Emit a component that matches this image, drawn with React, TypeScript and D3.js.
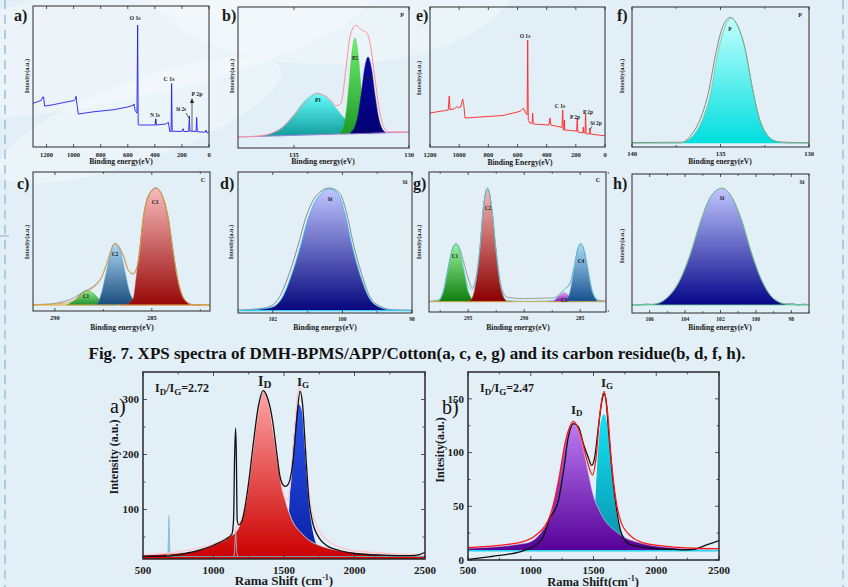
import React from "react";
import * as d3 from "d3";

type P = [number, number];

// ---------------- DATA ----------------
// a) survey DMH-BPMS/APP/Cotton (binding energy, relative intensity %)
const surveyA: P[] = [
  [1300, 31], [1270, 32], [1240, 33], [1228, 35.5], [1222, 35.5], [1214, 29], [1150, 30], [1050, 32],
  [995, 33], [987, 34], [982, 36], [975, 30], [965, 23.4], [850, 25], [700, 26.5], [600, 28.4],
  [560, 29.5], [554, 30.5], [546, 26], [532, 24], [527, 86.5], [523, 16], [515, 15.6], [398, 15.6],
  [394, 20], [390, 15.6], [320, 16.3], [300, 17.5], [290, 11], [280, 11], [276, 45], [272, 11.2],
  [200, 11], [192, 13], [186, 11], [150, 11], [145, 22], [141, 11.3], [95, 11], [91, 21], [87, 10.8],
  [30, 10.5], [22, 12], [15, 10], [0, 10.6],
];
const surveyALabels = ["O 1s", "C 1s", "N 1s", "Si 2s", "P 2p"];

// e) survey carbon residue
const surveyE: P[] = [
  [1200, 24.3], [1100, 26], [1075, 26.4], [1068, 36.4], [1062, 26.5], [1030, 27.5], [1015, 29], [1005, 28],
  [990, 28.5], [976, 34.3], [968, 30], [960, 20.7], [700, 22.5], [580, 25.5], [560, 27.8], [545, 24.3],
  [534, 23], [530, 76.4], [526, 19], [515, 17.1], [500, 17], [496, 24.3], [492, 16.4], [385, 15.7],
  [377, 20.7], [372, 15.7], [295, 14], [290, 26.4], [286, 12], [282, 12], [279, 19.3], [275, 12.1],
  [195, 11.4], [190, 20.7], [186, 10.7], [152, 10], [149, 14.3], [145, 10], [137, 10], [133, 24.3],
  [129, 9.3], [106, 9.3], [103, 13.6], [100, 9.3], [50, 8.6], [0, 8],
];
const surveyELabels = ["O 1s", "C 1s", "P 2p", "P 2p", "Si 2p"];

// b) P 2p
const bBase: P[] = [[137.43, 7.8], [130, 11.3]];
const bP1: P[] = [[136.5, 8.6], [136, 10.3], [135.5, 14.9], [135, 23.7], [134.5, 34.1], [133.96, 39], [133.5, 34.5], [133, 24.7], [132.5, 16.3], [132, 12.2], [131.5, 11]];
const bP2: P[] = [[133.0, 11.1], [132.87, 14.4], [132.74, 24.4], [132.61, 44.1], [132.48, 67.2], [132.35, 78], [132.22, 67.2], [132.09, 44.1], [131.96, 24.4], [131.83, 14.4], [131.7, 11.2]];
const bP3: P[] = [[132.53, 11.2], [132.38, 13.9], [132.23, 21.8], [132.08, 37.5], [131.93, 55.9], [131.78, 64.5], [131.63, 55.9], [131.48, 37.5], [131.33, 21.8], [131.18, 13.9], [131.03, 11.2]];
const bEnv: P[] = [[137.43, 7.8], [136.5, 8.6], [136, 10.3], [135.5, 14.5], [135, 23], [134.5, 32], [134, 38.5], [133.5, 35.5], [133.15, 30], [132.95, 32], [132.75, 55], [132.55, 80], [132.3, 87], [132.05, 83.5], [131.85, 82], [131.7, 75], [131.5, 52], [131.3, 28], [131.1, 15], [130.9, 11.5], [130, 11.3]];

// f) P 2p residue
const fP: P[] = [[140, 2.6], [137.3, 2.8], [136.98, 4], [136.51, 8.6], [135.95, 21.7], [135.56, 38.3], [135.19, 64.5], [134.81, 83.6], [134.38, 91.9], [133.97, 84.8], [133.59, 69.3], [133.21, 43], [132.84, 21.7], [132.37, 8.6], [131.8, 3.8], [131.3, 2.8], [130, 2.6]];
const fRaw: P[] = [[140, 3.1], [138.5, 3.3], [137.2, 3.4], [136.6, 9.5], [136.05, 23], [135.66, 40], [135.28, 66], [134.9, 85], [134.44, 92.5], [134.0, 85.5], [133.6, 69.5], [133.22, 43.5], [132.84, 22], [132.37, 8.8], [131.8, 3.9], [131, 3.2], [130, 3]];

// c) C 1s
const cC1: P[] = [[289.4, 4.3], [288.97, 7.9], [288.63, 12.7], [288.36, 14.9], [288.02, 12.7], [287.67, 7.9], [287.25, 4.8], [286.9, 4.3]];
const cC2: P[] = [[288.1, 4.3], [287.85, 4.8], [287.6, 12.7], [287.34, 28.3], [287.08, 43.9], [286.91, 48.7], [286.65, 43.9], [286.39, 28.3], [286.13, 12.7], [285.79, 6.2], [285.45, 4.3]];
const cC3: P[] = [[286.6, 4.3], [286.3, 4.8], [285.96, 9.1], [285.79, 25.9], [285.62, 45.1], [285.45, 66.7], [285.19, 82.2], [284.79, 88.3], [284.41, 81.1], [284.15, 66.7], [283.9, 42.7], [283.64, 21.1], [283.3, 7.9], [282.87, 4.3], [282.5, 4.3]];
const cEnv: P[] = [[291.13, 4.3], [289.57, 5.5], [288.8, 9.1], [288.36, 13.5], [288.02, 16.8], [287.67, 22.3], [287.34, 33.1], [286.91, 48.7], [286.48, 40.3], [286.22, 29.5], [285.96, 27.1], [285.7, 35.5], [285.45, 65], [285.19, 82.2], [284.79, 88.3], [284.41, 81.1], [284.15, 66.7], [283.9, 42.7], [283.64, 21.1], [283.3, 7.9], [282.87, 4.3], [282, 4.3]];
const cRaw: P[] = [[291.13, 4.6], [290.2, 5.1], [289.6, 6.6], [289, 9.6], [288.6, 13.2], [288.2, 16], [287.9, 19], [287.6, 24], [287.34, 33.5], [286.91, 48.5], [286.48, 40], [286.2, 29], [285.96, 26.5], [285.7, 36], [285.45, 65.5], [285.19, 82.5], [284.79, 88.6], [284.41, 81], [284.15, 66], [283.9, 42], [283.64, 21], [283.3, 8], [282.87, 4.6], [282, 4.4]];
const cBase: P[] = [[291.13, 4.3], [282, 4.3]];

// d) Si 2p
const dSi: P[] = [[103, 1.7], [102.33, 2.8], [101.98, 4.5], [101.74, 10.4], [101.46, 27], [101.22, 45.9], [100.98, 67.2], [100.69, 82.5], [100.35, 88], [100.11, 83.7], [99.92, 69.5], [99.73, 48.2], [99.49, 27], [99.25, 11.6], [98.96, 4.5], [98.58, 2.1], [98, 1.7]];
const dRaw: P[] = [[103, 2.1], [102.35, 3.2], [102.02, 5.4], [101.8, 11.8], [101.52, 28.5], [101.28, 47.5], [101.04, 68.5], [100.74, 83.5], [100.38, 88.6], [100.08, 85], [99.88, 71], [99.69, 49.5], [99.45, 28], [99.22, 12], [98.93, 5], [98.55, 2.3], [98, 2]];
const dBase: P[] = [[103, 1.7], [98, 1.7]];

// g) C 1s residue
const gC1: P[] = [[298.2, 7.4], [297.67, 7.9], [297.22, 14.5], [296.78, 31.2], [296.42, 44.3], [296.12, 48.6], [295.79, 44.3], [295.44, 31.2], [295.0, 14.5], [294.4, 7.9], [294.0, 7.4]];
const gC2: P[] = [[295.3, 7.4], [294.84, 7.9], [294.4, 16.9], [293.95, 45.5], [293.65, 74], [293.27, 88.3], [292.9, 74], [292.54, 45.5], [292.07, 16.9], [291.56, 7.9], [291.1, 7.4]];
const gC3: P[] = [[287.8, 7.4], [287.4, 7.9], [286.96, 10.9], [286.42, 13.8], [285.91, 10.9], [285.47, 7.9], [285.1, 7.4]];
const gC4: P[] = [[286.8, 7.4], [286.36, 7.9], [285.91, 14.5], [285.53, 31.2], [285.23, 44.3], [284.96, 48.6], [284.66, 44.3], [284.33, 31.2], [283.91, 14.5], [283.38, 7.9], [282.9, 7.4]];
const gEnv: P[] = [[298.5, 7.5], [297.67, 8], [297.22, 14.5], [296.78, 31.2], [296.42, 44.3], [296.12, 48.6], [295.79, 44.5], [295.44, 32], [295, 18], [294.7, 16], [294.4, 20], [293.95, 45.5], [293.65, 74], [293.27, 88.3], [292.9, 74], [292.54, 45.5], [292.07, 17], [291.56, 8.5], [290, 7.6], [287.4, 8.2], [286.96, 11.5], [286.42, 16], [285.91, 20], [285.53, 32], [285.23, 44.3], [284.96, 48.6], [284.66, 44.3], [284.33, 31.2], [283.91, 14.5], [283.38, 8], [282.7, 7.4]];
const gRaw: P[] = [[298.5, 7.6], [297.67, 8.5], [297.22, 15], [296.78, 32], [296.42, 45], [296.12, 48.8], [295.79, 46], [295.44, 37], [295, 24], [294.6, 17], [294.4, 21], [293.95, 46], [293.65, 74.5], [293.27, 88.5], [292.9, 74], [292.54, 46], [292.07, 19], [291.56, 10.7], [290, 9.5], [288, 10], [287.4, 10], [286.96, 12], [286.42, 16.2], [285.91, 21], [285.53, 33], [285.23, 45], [284.96, 48.8], [284.66, 44], [284.33, 30], [283.91, 14], [283.38, 8.5], [282.7, 7.8]];
const gBase: P[] = [[298.5, 7.4], [282.7, 7.4]];

// h) Si 2p residue
const hSi: P[] = [[107, 5.8], [106.3, 5.9], [105.8, 6.3], [105.04, 10.6], [104.29, 23.7], [103.72, 41.7], [103.16, 64.5], [102.59, 82.5], [101.93, 89.7], [101.37, 83.7], [100.81, 66.9], [100.24, 42.9], [99.68, 23.7], [99.02, 10.6], [98.27, 6.3], [97.6, 5.9], [97, 5.8]];
const hRaw: P[] = [[107, 6], [106.6, 5.5], [106.2, 6.6], [105.8, 6.1], [105.04, 10.8], [104.29, 23.9], [103.72, 41.9], [103.16, 64.7], [102.59, 83], [102.2, 88.5], [101.93, 89.8], [101.37, 83.5], [100.81, 66.7], [100.24, 42.7], [99.68, 23.5], [99.02, 10.4], [98.27, 6.6], [97.9, 6.9], [97.6, 5.4], [97.3, 6.5], [97, 5.9]];
const hBase: P[] = [[107, 5.8], [97, 5.8]];

// Raman a) DMH-BPMS/APP/Cotton
const ramanA_D: P[] = [[500, 17.5], [833, 23], [1003, 35.5], [1117, 50.5], [1176, 65.8], [1235, 120], [1282, 211], [1318, 284], [1353, 314], [1388, 296], [1424, 241], [1459, 181], [1495, 132], [1542, 90], [1637, 53.6], [1778, 32.4], [1998, 22], [2251, 17.3], [2500, 16]];
const ramanA_G: P[] = [[1480, 20], [1530, 78], [1554, 181], [1571, 241], [1590, 284], [1606, 291], [1627, 278], [1648, 211], [1672, 120], [1696, 72], [1731, 35.5], [1780, 18]];
const ramanA_raw: P[] = [[500, 15], [650, 15], [800, 20], [900, 26], [1000, 35], [1080, 45], [1130, 55], [1142, 80], [1150, 200], [1157, 248], [1162, 200], [1168, 80], [1180, 72], [1205, 82], [1250, 150], [1280, 215], [1320, 290], [1352, 316], [1380, 305], [1420, 260], [1450, 200], [1470, 162], [1490, 146], [1510, 142], [1530, 146], [1560, 180], [1590, 262], [1614, 315], [1632, 290], [1652, 210], [1676, 120], [1700, 80], [1750, 48], [1800, 35], [1900, 25], [2000, 20], [2200, 17], [2400, 16], [2460, 18], [2500, 22]];
const ramanA_fit: P[] = [[500, 17], [1000, 37], [1200, 82], [1300, 250], [1352, 318], [1400, 285], [1450, 200], [1490, 135], [1519, 117], [1545, 145], [1570, 230], [1600, 315], [1612, 322], [1630, 295], [1660, 180], [1700, 95], [1800, 45], [2000, 25], [2500, 17]];
const ramanA_spike1: P[] = [[668, 14], [677, 17], [681, 45], [684, 90], [687, 45], [691, 17], [700, 14]];
const ramanA_spike1fill: P[] = [[674, 12], [680, 18], [684, 27], [688, 18], [694, 12]];
const ramanA_spike2: P[] = [[1138, 13], [1148, 20], [1153, 42], [1157, 62], [1161, 42], [1166, 20], [1176, 13]];
const ramanA_base: P[] = [[500, 14.5], [2500, 14.5]];
const ramanA_floor: P[] = [[500, 11.8], [2500, 11.8]];

// Raman b) carbon residue
const ramanB_D: P[] = [[500, 10.9], [954, 15.5], [1087, 26.4], [1167, 45], [1220, 76], [1273, 110], [1339, 127], [1392, 116], [1446, 88.5], [1498, 60.5], [1565, 41.9], [1698, 24.8], [1884, 15.5], [2176, 10.9], [2500, 9.3]];
const ramanB_G: P[] = [[1450, 15], [1512, 51], [1525, 79], [1544, 113], [1565, 132], [1584, 135.7], [1605, 128.8], [1631, 101], [1658, 66.8], [1685, 41.9], [1725, 24.8], [1804, 17], [1880, 10]];
const ramanB_raw: P[] = [[500, 0.5], [600, 2], [700, 3.5], [800, 5], [900, 7], [950, 9], [1000, 11], [1050, 15], [1100, 22], [1130, 32], [1150, 39], [1180, 44], [1220, 55], [1260, 82], [1300, 115], [1340, 127], [1380, 124], [1420, 108], [1460, 95], [1485, 88], [1510, 96], [1540, 125], [1570, 150], [1585, 155], [1600, 148], [1620, 120], [1650, 80], [1680, 50], [1710, 30], [1740, 20], [1800, 14], [1900, 12], [2000, 10.5], [2100, 10], [2200, 9.5], [2300, 10], [2400, 14], [2500, 18]];
const ramanB_fit: P[] = [[500, 11.5], [900, 16], [1050, 24], [1150, 40], [1220, 72], [1280, 112], [1340, 129], [1400, 115], [1450, 92], [1493, 79], [1520, 95], [1550, 135], [1584, 157], [1610, 140], [1640, 95], [1680, 55], [1720, 35], [1800, 22], [1900, 16], [2100, 12.5], [2300, 11], [2500, 10.5]];
const ramanB_base: P[] = [[500, 8.5], [2500, 8.5]];

// tick values
const ticksA = [1200, 1000, 800, 600, 400, 200, 0];
const ticksB = [135, 130];
const ticksE = [1200, 1000, 800, 600, 400, 200, 0];
const ticksF = [140, 135, 130];
const minorF = [137.5, 132.5];
const ticksC = [290, 285];
const minorC = [287.5, 282.5];
const ticksD = [102, 100, 98];
const minorD = [101, 99];
const ticksG = [295, 290, 285];
const minorG = [297.5, 292.5, 287.5, 282.5];
const ticksH = [106, 104, 102, 100, 98];
const minorH = [105, 103, 101, 99, 97];
const ramanX = [500, 1000, 1500, 2000, 2500];
const ramanXMinor = [750, 1250, 1750, 2250];
const ramanAY = [100, 200, 300];
const ramanAYMinor = [50, 150, 250];
const ramanBY = [0, 50, 100, 150];
const ramanBYMinor = [25, 75, 125];

// ---------------- DRAWING ----------------
const FONT = "'Liberation Serif','Times New Roman',serif";
const INK = "#1a1a1a";

interface Series {
  data: P[];
  fill?: [string, string];
  stroke?: string;
  sw?: number;
  base?: P[];
  linear?: boolean;
}
interface Box { x0: number; x1: number; y0: number; y1: number }
interface PanelProps {
  id: string;
  box: Box;
  xd: [number, number];
  yd: [number, number];
  series: Series[];
  xt: number[];
  xtMinor?: number[];
  yt?: number[];
  ytMinor?: number[];
  tickFs: number;
  tickDy: number;
  boxSw?: number;
  tickLen?: number;
}

function Panel(p: PanelProps) {
  const { box, xd, yd } = p;
  const x = d3.scaleLinear().domain(xd).range([box.x0, box.x1]);
  const y = d3.scaleLinear().domain(yd).range([box.y1, box.y0]);
  const clip = `${p.id}-clip`;
  const tl = p.tickLen ?? 3;
  return (
    <g>
      <defs>
        <clipPath id={clip}>
          <rect x={box.x0} y={box.y0} width={box.x1 - box.x0} height={box.y1 - box.y0} />
        </clipPath>
        {p.series.map((s, i) =>
          s.fill ? (
            <linearGradient key={i} id={`${p.id}-g${i}`} x1="0" y1="0" x2="0" y2="1">
              <stop offset="0" stopColor={s.fill[0]} />
              <stop offset="1" stopColor={s.fill[1]} />
            </linearGradient>
          ) : null
        )}
      </defs>
      <g clipPath={`url(#${clip})`}>
        {p.series.map((s, i) => {
          const data = s.data.slice().sort((a, b) => x(a[0]) - x(b[0]));
          const curve = s.linear ? d3.curveLinear : d3.curveMonotoneX;
          if (s.fill) {
            const bs = s.base
              ? d3.scaleLinear().domain(s.base.map((d) => d[0])).range(s.base.map((d) => d[1]))
              : () => yd[0];
            const area = d3
              .area<P>()
              .x((d) => x(d[0]))
              .y0((d) => y((bs as any)(d[0])))
              .y1((d) => y(d[1]))
              .curve(curve);
            return (
              <path
                key={i}
                d={area(data) || ""}
                fill={`url(#${p.id}-g${i})`}
                stroke={s.stroke || "none"}
                strokeWidth={s.sw ?? 0.8}
              />
            );
          }
          const line = d3
            .line<P>()
            .x((d) => x(d[0]))
            .y((d) => y(d[1]))
            .curve(curve);
          return <path key={i} d={line(data) || ""} fill="none" stroke={s.stroke} strokeWidth={s.sw ?? 0.8} strokeLinejoin="round" />;
        })}
      </g>
      <rect x={box.x0} y={box.y0} width={box.x1 - box.x0} height={box.y1 - box.y0} fill="none" stroke="#2a2a2a" strokeWidth={p.boxSw ?? 1} />
      {[...p.xt, ...(p.xtMinor || [])].map((t, i) => (
        <g key={"xt" + i}>
          <line x1={x(t)} x2={x(t)} y1={box.y1} y2={box.y1 - (i < p.xt.length ? tl : tl * 0.6)} stroke="#2a2a2a" strokeWidth={0.8} />
          <line x1={x(t)} x2={x(t)} y1={box.y0} y2={box.y0 + (i < p.xt.length ? tl : tl * 0.6)} stroke="#2a2a2a" strokeWidth={0.8} />
        </g>
      ))}
      {p.xt.map((t) => (
        <text key={"xl" + t} x={x(t)} y={box.y1 + p.tickDy} textAnchor="middle" fontSize={p.tickFs} fontWeight="bold" fill={INK}>
          {t}
        </text>
      ))}
      {[...(p.yt || []), ...(p.ytMinor || [])].map((t, i) => (
        <g key={"yt" + i}>
          <line x1={box.x0} x2={box.x0 + (i < (p.yt || []).length ? tl : tl * 0.6)} y1={y(t)} y2={y(t)} stroke="#2a2a2a" strokeWidth={0.8} />
          <line x1={box.x1} x2={box.x1 - (i < (p.yt || []).length ? tl : tl * 0.6)} y1={y(t)} y2={y(t)} stroke="#2a2a2a" strokeWidth={0.8} />
        </g>
      ))}
      {(p.yt || []).map((t) => (
        <text key={"yl" + t} x={box.x0 - 4} y={y(t) + p.tickFs * 0.35} textAnchor="end" fontSize={p.tickFs} fontWeight="bold" fill={INK}>
          {t}
        </text>
      ))}
    </g>
  );
}

function T(props: { x: number; y: number; s: number; children: React.ReactNode; a?: "start" | "middle" | "end"; w?: string; rot?: boolean; c?: string }) {
  const { x, y, s, a = "middle", w = "bold", rot, c = INK } = props;
  return (
    <text
      x={x}
      y={y}
      fontSize={s}
      fontWeight={w}
      textAnchor={a}
      fill={c}
      transform={rot ? `rotate(-90 ${x} ${y})` : undefined}
    >
      {props.children}
    </text>
  );
}

export default function App() {
  const boxA = { x0: 33, x1: 209, y0: 6, y1: 147 };
  const boxB = { x0: 238, x1: 409, y0: 7, y1: 148 };
  const boxE = { x0: 430, x1: 605, y0: 7, y1: 147 };
  const boxF = { x0: 632, x1: 809, y0: 7, y1: 147 };
  const boxC = { x0: 33, x1: 210, y0: 172, y1: 311 };
  const boxD = { x0: 238, x1: 412, y0: 172, y1: 313 };
  const boxG = { x0: 429, x1: 606, y0: 172, y1: 312 };
  const boxH = { x0: 632, x1: 809, y0: 174, y1: 313 };
  const boxRA = { x0: 143, x1: 425, y0: 372, y1: 559 };
  const boxRB = { x0: 468, x1: 719, y0: 372, y1: 560 };
  const xf = 6.5;
  const yfs = 6.3;
  const xtitle = 7.6;
  const lf = 16;

  return (
    <svg
      width={848}
      height={587}
      viewBox="0 0 848 587"
      style={{ position: "absolute", left: 0, top: 0, fontFamily: FONT }}
    >
      <rect x={0} y={0} width={848} height={587} fill="#e3eff6" />
      <ellipse cx={120} cy={40} rx={260} ry={60} transform="rotate(-12 120 40)" fill="#ffffff" opacity={0.35} />
      <ellipse cx={330} cy={-30} rx={190} ry={95} fill="#ffffff" opacity={0.3} />
      <ellipse cx={140} cy={120} rx={150} ry={40} transform="rotate(-20 140 120)" fill="#ffffff" opacity={0.3} />
      <line x1={5} x2={5} y1={0} y2={587} stroke="#9fc4dc" strokeWidth={1.6} strokeDasharray="9 6" />
      <line x1={843} x2={843} y1={0} y2={587} stroke="#9fc4dc" strokeWidth={1.6} strokeDasharray="9 6" />
      <line x1={0} x2={9} y1={236} y2={236} stroke="#9fc4dc" strokeWidth={1.4} />

      {/* a) */}
      <Panel id="pa" box={boxA} xd={[1300, 0]} yd={[0, 100]} xt={ticksA} tickFs={xf} tickDy={10}
        series={[{ data: surveyA, stroke: "#1f1ff0", sw: 0.9, linear: true }]} />
      <T x={14} y={21} s={lf} a="start">a)</T>
      <T x={29} y={76} s={yfs} rot>Intesity(a.u.)</T>
      <T x={121} y={164} s={xtitle}>Binding energy(eV)</T>
      <T x={135} y={20} s={5.8}>{surveyALabels[0]}</T>
      <T x={169} y={81} s={5.8}>{surveyALabels[1]}</T>
      <T x={155} y={117} s={5.2}>{surveyALabels[2]}</T>
      <T x={181} y={111} s={5.2}>{surveyALabels[3]}</T>
      <T x={197} y={96} s={5.8}>{surveyALabels[4]}</T>
      <line x1={192} x2={192} y1={131} y2={100} stroke="#222" strokeWidth={0.7} />
      <path d="M190,103 L192,98 L194,103 Z" fill="#222" />
      <line x1={186} x2={189} y1={113} y2={118} stroke="#222" strokeWidth={0.7} />
      <line x1={156} x2={156} y1={124} y2={119} stroke="#222" strokeWidth={0.6} />

      {/* b) */}
      <Panel id="pb" box={boxB} xd={[137.43, 130]} yd={[0, 100]} xt={ticksB} tickFs={xf} tickDy={9}
        series={[
          { data: bP1, fill: ["#66ffff", "#139c9c"], base: bBase, stroke: "#5fd8d8", sw: 0.5 },
          { data: bP2, fill: ["#70f070", "#1e9a28"], base: bBase, stroke: "#40c040", sw: 0.5 },
          { data: bP3, fill: ["#0a0aa8", "#000070"], base: bBase, stroke: "#000080", sw: 0.5 },
          { data: bBase, stroke: "#b070e0", sw: 0.8, linear: true },
          { data: bEnv, stroke: "#ff8f98", sw: 1 },
        ]} />
      <T x={222} y={21} s={lf} a="start">b)</T>
      <T x={234} y={76} s={yfs} rot>Intesity(a.u.)</T>
      <T x={323} y={164} s={xtitle}>Binding energy(eV)</T>
      <T x={402} y={17} s={6}>P</T>
      <T x={318} y={102} s={5.5}>P1</T>
      <T x={355} y={60} s={5.5}>P2</T>
      <T x={369} y={80} s={5.5}>P3</T>

      {/* e) */}
      <Panel id="pe" box={boxE} xd={[1200, 0]} yd={[0, 100]} xt={ticksE} tickFs={xf} tickDy={10}
        series={[{ data: surveyE, stroke: "#ff2424", sw: 0.9, linear: true }]} />
      <T x={416} y={21} s={lf} a="start">e)</T>
      <T x={421} y={78} s={yfs} rot>Intesity(a.u.)</T>
      <T x={520} y={165} s={xtitle}>Binding Energy(eV)</T>
      <T x={525} y={38} s={5.6}>{surveyELabels[0]}</T>
      <T x={560} y={108} s={5.6}>{surveyELabels[1]}</T>
      <T x={575} y={119} s={5.4}>{surveyELabels[2]}</T>
      <T x={588} y={114} s={5.4}>{surveyELabels[3]}</T>
      <T x={596} y={125} s={5.4}>{surveyELabels[4]}</T>
      <line x1={592} x2={590} y1={126} y2={130} stroke="#222" strokeWidth={0.6} />

      {/* f) */}
      <Panel id="pf" box={boxF} xd={[140, 130]} yd={[0, 100]} xt={ticksF} xtMinor={minorF} tickFs={xf} tickDy={9}
        series={[
          { data: fP, fill: ["#c2ffff", "#00dede"], base: [[140, 2.6], [130, 2.6]] },
          { data: fRaw, stroke: "#6a6a6a", sw: 0.8 },
          { data: fP, stroke: "#6cc890", sw: 0.8 },
        ]} />
      <T x={617} y={21} s={lf} a="start">f)</T>
      <T x={624} y={76} s={yfs} rot>Intesity(a.u.)</T>
      <T x={720} y={164} s={xtitle}>Binding energy(eV)</T>
      <T x={800} y={17} s={6}>P</T>
      <T x={730} y={31} s={5.5}>P</T>

      {/* c) */}
      <Panel id="pc" box={boxC} xd={[291.13, 282]} yd={[0, 100]} xt={ticksC} xtMinor={minorC} tickFs={xf} tickDy={9}
        series={[
          { data: cC1, fill: ["#95ec95", "#1f8f2c"], base: cBase, stroke: "#40b040", sw: 0.5 },
          { data: cC2, fill: ["#acd8f6", "#184c7c"], base: cBase, stroke: "#4a9ad8", sw: 0.5 },
          { data: cC3, fill: ["#f8bcbc", "#980808"], base: cBase, stroke: "#c04040", sw: 0.5 },
          { data: cRaw, stroke: "#808080", sw: 0.8 },
          { data: cEnv, stroke: "#e0a43a", sw: 0.9 },
          { data: cBase, stroke: "#e0a43a", sw: 1, linear: true },
        ]} />
      <T x={17} y={189} s={lf} a="start">c)</T>
      <T x={29} y={242} s={yfs} rot>Intesity(a.u.)</T>
      <T x={122} y={330} s={xtitle}>Binding energy(eV)</T>
      <T x={203} y={182} s={6}>C</T>
      <T x={86} y={298} s={5.5}>C1</T>
      <T x={115} y={256} s={5.5}>C2</T>
      <T x={155} y={204} s={5.5}>C3</T>

      {/* d) */}
      <Panel id="pd" box={boxD} xd={[103, 98]} yd={[0, 100]} xt={ticksD} xtMinor={minorD} tickFs={xf * 0.85} tickDy={8}
        series={[
          { data: dSi, fill: ["#c0c6ff", "#06067e"], base: dBase },
          { data: dRaw, stroke: "#707070", sw: 0.8 },
          { data: dSi, stroke: "#38b4f0", sw: 0.9 },
          { data: dBase, stroke: "#38c8f8", sw: 1.4, linear: true },
        ]} />
      <T x={220} y={189} s={lf} a="start">d)</T>
      <T x={233} y={242} s={yfs} rot>Intesity(a.u.)</T>
      <T x={325} y={330} s={xtitle}>Binding energy(eV)</T>
      <T x={405} y={184} s={6}>Si</T>
      <T x={330} y={201} s={5.5}>Si</T>

      {/* g) */}
      <Panel id="pg" box={boxG} xd={[298.5, 282.7]} yd={[0, 100]} xt={ticksG} xtMinor={minorG} tickFs={xf * 0.85} tickDy={8}
        series={[
          { data: gC1, fill: ["#98f298", "#0e7e10"], base: gBase, stroke: "#40c040", sw: 0.5 },
          { data: gC2, fill: ["#f4b8b8", "#8c0000"], base: gBase, stroke: "#c04040", sw: 0.5 },
          { data: gC3, fill: ["#e6a8f4", "#7a18ac"], base: gBase, stroke: "#a050d0", sw: 0.5 },
          { data: gC4, fill: ["#acdaf8", "#16508e"], base: gBase, stroke: "#4aa0e0", sw: 0.5 },
          { data: gRaw, stroke: "#888888", sw: 0.8 },
          { data: gEnv, stroke: "#58d2e0", sw: 0.8 },
          { data: gBase, stroke: "#e0a43a", sw: 0.9, linear: true },
        ]} />
      <T x={413} y={189} s={lf} a="start">g)</T>
      <T x={421} y={242} s={yfs} rot>Intesity(a.u.)</T>
      <T x={518} y={330} s={xtitle}>Binding energy(eV)</T>
      <T x={598} y={182} s={6}>C</T>
      <T x={455} y={258} s={5.5}>C1</T>
      <T x={488} y={210} s={5.5}>C2</T>
      <T x={564} y={302} s={5.5}>C3</T>
      <T x={581} y={263} s={5.5}>C4</T>

      {/* h) */}
      <Panel id="ph" box={boxH} xd={[107, 97]} yd={[0, 100]} xt={ticksH} xtMinor={minorH} tickFs={xf * 0.85} tickDy={8}
        series={[
          { data: hSi, fill: ["#c0c6ff", "#06068a"], base: hBase },
          { data: hRaw, stroke: "#808080", sw: 0.7 },
          { data: hSi, stroke: "#66c896", sw: 0.9 },
          { data: hBase, stroke: "#66c896", sw: 0.8, linear: true },
        ]} />
      <T x={613} y={189} s={lf} a="start">h)</T>
      <T x={624} y={246} s={yfs} rot>Intesity(a.u.)</T>
      <T x={720} y={330} s={xtitle}>Binding energy(eV)</T>
      <T x={802} y={184} s={6}>Si</T>
      <T x={722} y={200} s={5.5}>Si</T>

      {/* caption */}
      <text x={417} y={359} fontSize={17.5} fontWeight="bold" textAnchor="middle" fill="#111" textLength={657} lengthAdjust="spacingAndGlyphs">
        Fig. 7. XPS spectra of DMH-BPMS/APP/Cotton(a, c, e, g) and its carbon residue(b, d, f, h).
      </text>

      {/* Raman a */}
      <Panel id="ra" box={boxRA} xd={[500, 2500]} yd={[10, 350]} xt={ramanX} xtMinor={ramanXMinor} yt={ramanAY} ytMinor={ramanAYMinor}
        tickFs={11} tickDy={15} boxSw={1.5} tickLen={4}
        series={[
          { data: ramanA_G, fill: ["#2a56ee", "#0a1ea4"], base: ramanA_floor },
          { data: ramanA_D, fill: ["#ffa4a4", "#cc0000"], base: ramanA_floor, stroke: "#d8eef4", sw: 0.8 },
          { data: ramanA_spike1fill, fill: ["#e02020", "#c00000"], base: ramanA_floor },
          { data: ramanA_spike2, fill: ["#e02020", "#c00000"], base: ramanA_floor, stroke: "#a8bcc4", sw: 0.9 },
          { data: ramanA_spike1, stroke: "#88c4d4", sw: 1.3 },
          { data: ramanA_base, stroke: "#50d0e0", sw: 1, linear: true },
          { data: ramanA_floor, stroke: "#e00000", sw: 2.6, linear: true },
          { data: ramanA_fit, stroke: "#ffc6cc", sw: 1.3 },
          { data: ramanA_raw, stroke: "#111111", sw: 1.3 },
        ]} />
      <text x={110} y={413} fontSize={20} fill="#111">a)</text>
      <T x={118} y={457} s={12} rot>Intensity (a.u.)</T>
      <text x={284} y={585} fontSize={13} fontWeight="bold" textAnchor="middle" fill={INK}>
        Rama Shift (cm<tspan dy={-5} fontSize={8}>-1</tspan><tspan dy={5}>)</tspan>
      </text>
      <text x={155} y={392} fontSize={12} fontWeight="bold" fill={INK}>
        I<tspan dy={3} fontSize={9}>D</tspan><tspan dy={-3}>/I</tspan><tspan dy={3} fontSize={9}>G</tspan><tspan dy={-3}>=2.72</tspan>
      </text>
      <text x={258} y={386} fontSize={14} fontWeight="bold" fill={INK}>
        I<tspan dy={2} fontSize={11}>D</tspan>
      </text>
      <text x={297} y={386} fontSize={13} fontWeight="bold" fill={INK}>
        I<tspan dy={2} fontSize={9}>G</tspan>
      </text>

      {/* Raman b */}
      <Panel id="rb" box={boxRB} xd={[500, 2500]} yd={[0, 175]} xt={ramanX} xtMinor={ramanXMinor} yt={ramanBY} ytMinor={ramanBYMinor}
        tickFs={11} tickDy={14} boxSw={1.5} tickLen={4}
        series={[
          { data: ramanB_G, fill: ["#14e4f4", "#0890ac"], base: ramanB_base },
          { data: ramanB_D, fill: ["#bb7cf2", "#560098"], base: ramanB_base, stroke: "#d8c8f0", sw: 0.6 },
          { data: ramanB_base, stroke: "#22d8ea", sw: 1.5, linear: true },
          { data: ramanB_raw, stroke: "#111111", sw: 1.3 },
          { data: ramanB_fit, stroke: "#ff1414", sw: 1.3 },
        ]} />
      <text x={442} y={414} fontSize={20} fill="#111">b)</text>
      <T x={444} y={450} s={12} rot>Intesity(a.u.)</T>
      <text x={593} y={586} fontSize={12.5} fontWeight="bold" textAnchor="middle" fill={INK}>
        Rama Shift(cm<tspan dy={-5} fontSize={8}>-1</tspan><tspan dy={5}>)</tspan>
      </text>
      <text x={480} y={392} fontSize={12} fontWeight="bold" fill={INK}>
        I<tspan dy={3} fontSize={9}>D</tspan><tspan dy={-3}>/I</tspan><tspan dy={3} fontSize={9}>G</tspan><tspan dy={-3}>=2.47</tspan>
      </text>
      <text x={571} y={414} fontSize={13} fontWeight="bold" fill={INK}>
        I<tspan dy={2} fontSize={9}>D</tspan>
      </text>
      <text x={601} y={387} fontSize={13} fontWeight="bold" fill={INK}>
        I<tspan dy={2} fontSize={9}>G</tspan>
      </text>
    </svg>
  );
}
